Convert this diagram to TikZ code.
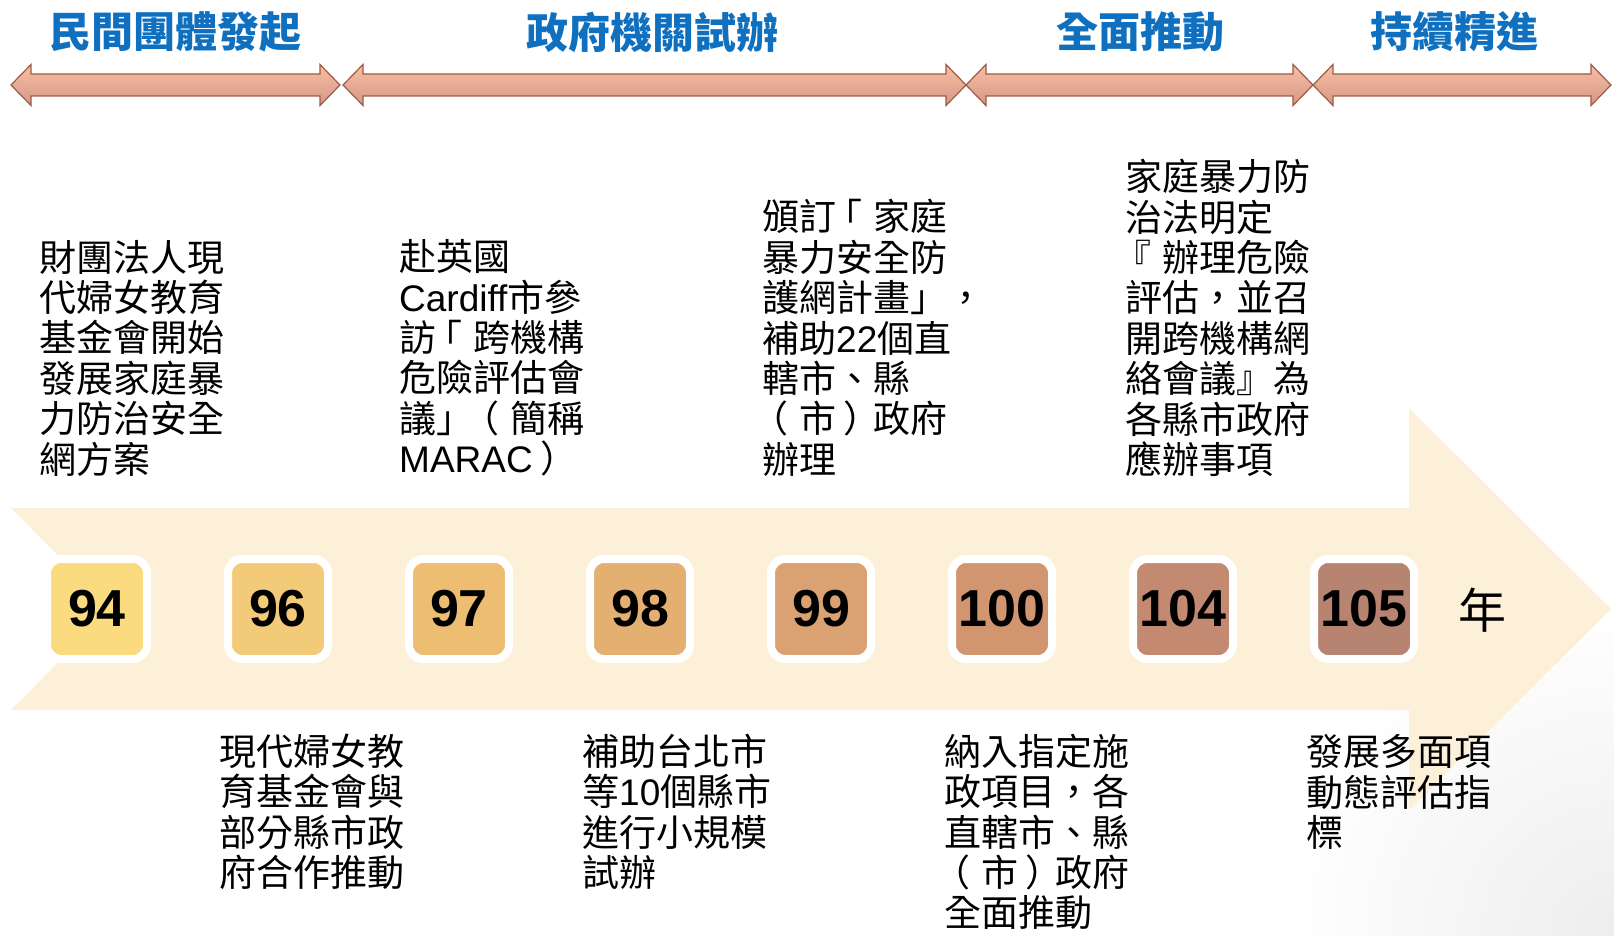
\documentclass[tikz,border=0pt]{standalone}
\usepackage{fontspec}
\setmainfont{Noto Sans CJK TC}
\newfontfamily\arial{Liberation Sans}
\definecolor{titleblue}{RGB}{16,112,192}
\definecolor{bandfill}{RGB}{253,240,216}
\definecolor{arrowline}{RGB}{157,91,69}
\definecolor{arrtop}{RGB}{248,190,162}
\definecolor{arrmid}{RGB}{238,162,135}
\definecolor{arrbot}{RGB}{212,152,136}
\definecolor{ya}{RGB}{251,219,127}
\definecolor{yb}{RGB}{243,202,119}
\definecolor{yc}{RGB}{237,189,114}
\definecolor{yd}{RGB}{228,176,113}
\definecolor{ye}{RGB}{218,162,114}
\definecolor{yf}{RGB}{209,149,111}
\definecolor{yg}{RGB}{195,138,113}
\definecolor{yh}{RGB}{184,132,114}
\tikzset{
  yearbox/.style={draw=white, line width=8pt, rounded corners=14pt,
    minimum width=100pt, minimum height=100pt, inner sep=0pt,
    font=\arial\bfseries\fontsize{52}{52}\selectfont, text=black},
  phase/.style={font=\bfseries\fontsize{42}{42}\selectfont, text=titleblue, inner sep=0pt},
  desc/.style={font=\fontsize{37}{40.4}\selectfont, align=left, anchor=west,
    inner sep=0pt, text=black},
  phasearrow/.style={draw=arrowline, line width=1.2pt, line join=miter,
    top color=arrtop, middle color=arrmid, bottom color=arrbot},
}
% opening / closing full-width marks shifted toward the centre of their cell
\newcommand{\ob}[1]{\hspace*{-0.3em}#1\hspace*{0.3em}}
\newcommand{\cp}[1]{\hspace*{0.2em}#1\hspace*{-0.2em}}
\newcommand{\dblarrow}[3]{%
  \shade[phasearrow] (#1,#3) -- ({#1+20},{#3-20.5}) -- ({#1+20},{#3-11})
    -- ({#2-20},{#3-11}) -- ({#2-20},{#3-20.5}) -- (#2,#3)
    -- ({#2-20},{#3+20.5}) -- ({#2-20},{#3+11}) -- ({#1+20},{#3+11})
    -- ({#1+20},{#3+20.5}) -- cycle;}
\begin{document}
\begin{tikzpicture}[x=1pt,y=-1pt]
\useasboundingbox (0,0) rectangle (1614,936);
\fill[white] (0,0) rectangle (1614,936);
\shade[inner color=black!7, outer color=white] (1614,936) circle[radius=330];

% phase titles
\node[phase] (t1) at (175,32) {民間團體發起};
\node[phase] (t2) at (652,32) {政府機關試辦};
\node[phase] (t3) at (1140,32) {全面推動};
\node[phase] (t4) at (1454,32) {持續精進};

% phase arrows
\dblarrow{11}{340}{85}
\dblarrow{343}{966}{85}
\dblarrow{966}{1313}{85}
\dblarrow{1313}{1611}{85}

% big timeline arrow
\fill[bandfill] (11,508) -- (1409,508) -- (1409,408) -- (1611,609)
  -- (1409,810) -- (1409,710) -- (11,710) -- (111,609) -- cycle;

% year boxes
\node[yearbox, fill=ya] (y94)  at (97,609)   {94};
\node[yearbox, fill=yb] (y96)  at (278,609)  {96};
\node[yearbox, fill=yc] (y97)  at (459,609)  {97};
\node[yearbox, fill=yd] (y98)  at (640,609)  {98};
\node[yearbox, fill=ye] (y99)  at (821,609)  {99};
\node[yearbox, fill=yf] (y100) at (1002,609) {100};
\node[yearbox, fill=yg] (y104) at (1183,609) {104};
\node[yearbox, fill=yh] (y105) at (1364,609) {105};
\node[font=\fontsize{48}{48}\selectfont, inner sep=0pt] (nian) at (1482,610) {年};

% descriptions above
\node[desc] (d94) at (39,358) {財團法人現\\代婦女教育\\基金會開始\\發展家庭暴\\力防治安全\\網方案};
\node[desc] (d97) at (399,358) {赴英國\\{\arial Cardiff}市參\\訪\ob{「}跨機構\\危險評估會\\議」\ob{（}簡稱\\{\arial MARAC}\cp{）}};
\node[desc] (d99) at (762,338) {頒訂\ob{「}家庭\\暴力安全防\\護網計畫」，\\補助{\arial 22}個直\\轄市、縣\\\ob{（}市\cp{）}政府\\辦理};
\node[desc] (d104) at (1125,318) {家庭暴力防\\治法明定\\\ob{『}辦理危險\\評估，並召\\開跨機構網\\絡會議』為\\各縣市政府\\應辦事項};

% descriptions below
\node[desc] (d96) at (219,812) {現代婦女教\\育基金會與\\部分縣市政\\府合作推動};
\node[desc] (d98) at (582,812) {補助台北市\\等{\arial 10}個縣市\\進行小規模\\試辦};
\node[desc] (d100) at (944,832) {納入指定施\\政項目，各\\直轄市、縣\\\ob{（}市\cp{）}政府\\全面推動};
\node[desc] (d105) at (1306,792) {發展多面項\\動態評估指\\標};
\end{tikzpicture}
\end{document}
